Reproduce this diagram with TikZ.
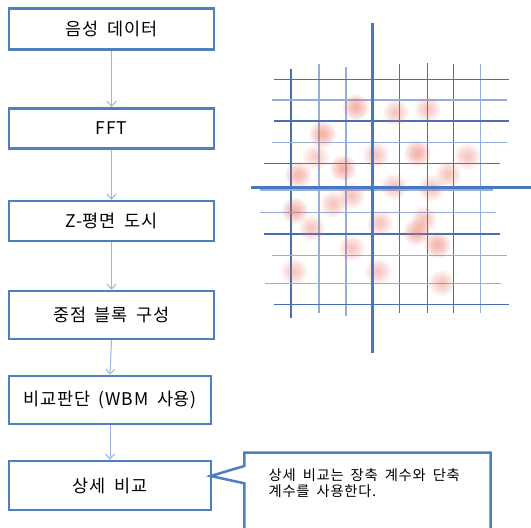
\documentclass[tikz,border=0pt]{standalone}
\usepackage{fontspec}
\setmainfont[LetterSpace=5,WordSpace=1.8]{Noto Sans CJK KR}
\usetikzlibrary{arrows.meta}
\definecolor{boxblue}{HTML}{4F7FBF}
\definecolor{arrblue}{HTML}{9AB5E0}
\definecolor{gdark}{HTML}{4A6FB3}
\definecolor{glight}{HTML}{94AED8}
\definecolor{axblue}{HTML}{4A78BE}
\definecolor{blobred}{HTML}{EE6A5A}
\newcommand\zblob[3]{%
  \foreach \r in {13,11,9,7,5,3}{\fill[blobred,fill opacity=#3] (#1,#2) circle[radius=\r];}}
\begin{document}
\begin{tikzpicture}[x=1pt,y=-1pt,
  stepbox/.style={draw=boxblue,line width=2.5pt,rectangle,fill=white,
    minimum width=205pt,minimum height=41pt,inner sep=0pt,
    font=\fontsize{17.5}{20}\selectfont},
  flow/.style={draw=arrblue,line width=1pt,-{Straight Barb[length=5pt,width=9pt]}},
  gd/.style={draw=gdark,line width=1.1pt},
  gl/.style={draw=glight,line width=1.4pt},
  axis/.style={draw=axblue,line width=3pt}]
\useasboundingbox (0,0) rectangle (531,528);
\clip (0,0) rectangle (531,528);
\fill[white] (0,0) rectangle (531,528);

% flowchart
\node[stepbox] (n1) at (111.5,29) {음성 데이터};
\node[stepbox,minimum height=40pt] (n2) at (111.5,128.3) {FFT};
\node[stepbox,minimum height=40pt] (n3) at (111.5,221) {Z-평면 도시};
\node[stepbox,minimum height=48pt] (n4) at (111.5,315) {중점 블록 구성};
\node[stepbox,minimum width=202pt,minimum height=48pt] (n5) at (110,400) {비교판단 (WBM 사용)};
\node[stepbox,minimum width=202pt,minimum height=49pt] (n6) at (110,485.5) {상세 비교};
\draw[flow] (n1.south) -- (n2.north);
\draw[flow] (n2.south) -- (n3.north);
\draw[flow] (n3.south) -- (n4.north);
\draw[flow] (n4.south) -- (n5.north);
\draw[flow] (n5.south) -- (n6.north);

% callout
\coordinate (tip) at (210.7,476);
\draw[boxblue,line width=2.5pt,line join=miter,fill=white]
  (244.3,466) -- (244.3,452.7) -- (490.7,452.7) -- (490.7,545) -- (244.3,545)
  -- (244.3,483.3) -- (tip) -- cycle;
\node[anchor=north west,inner sep=0pt,align=left,
  font=\fontsize{14.3}{16}\selectfont] (c) at (268.5,468)
  {상세 비교는 장축 계수와 단축\\계수를 사용한다.};

% grid
\draw[gd] (291,69.3) -- (291,318);
\draw[gl] (319,64) -- (319,313);
\draw[gl] (346,67.3) -- (346,316);
\draw[gd] (399.3,64) -- (399.3,313);
\draw[gd] (427.3,63.3) -- (427.3,313);
\draw[gd] (453.7,64) -- (453.7,313);
\draw[gl] (480.7,64) -- (480.7,313);
\draw[gd] (274.3,79.3) -- (509.3,79.3);
\draw[gl] (271.7,100) -- (506.7,100);
\draw[gd] (274.3,121) -- (509.3,121);
\draw[gl] (271.7,142.7) -- (506.7,142.7);
\draw[gd] (264.3,163.3) -- (500,163.3);
\draw[gl] (260,190) -- (493.3,190);
\draw[gl] (260,212.7) -- (495.7,212.7);
\draw[gd] (264.3,234) -- (500,234);
\draw[gl] (271.7,255.7) -- (506.7,255.7);
\draw[gl] (265.3,283.7) -- (500.7,283.7);
\draw[gd] (274.3,304.3) -- (509.3,304.3);

% blobs
\zblob{356}{107.3}{0.1}
\zblob{396}{112.7}{0.07}
\zblob{427.7}{109.3}{0.07}
\zblob{322.7}{134.3}{0.1}
\zblob{316}{157.3}{0.06}
\zblob{376}{155}{0.07}
\zblob{417.7}{153.3}{0.1}
\zblob{467.7}{156.7}{0.07}
\zblob{298.3}{175}{0.09}
\zblob{343.3}{168.3}{0.1}
\zblob{448.3}{174.3}{0.07}
\zblob{394.3}{186.7}{0.07}
\zblob{431.7}{188.3}{0.07}
\zblob{351.7}{196}{0.07}
\zblob{333.3}{204.3}{0.07}
\zblob{295}{211}{0.1}
\zblob{311.7}{228.3}{0.07}
\zblob{380}{223.3}{0.07}
\zblob{424.3}{219.3}{0.07}
\zblob{416.7}{232.3}{0.1}
\zblob{437.7}{245}{0.1}
\zblob{351.7}{248.3}{0.07}
\zblob{294.3}{271.7}{0.07}
\zblob{378.3}{271.7}{0.07}
\zblob{441.7}{283.3}{0.07}

% axes
\draw[axis] (372.7,22.7) -- (372.7,353);
\draw[axis] (251,187) -- (531,187);
\end{tikzpicture}
\end{document}
